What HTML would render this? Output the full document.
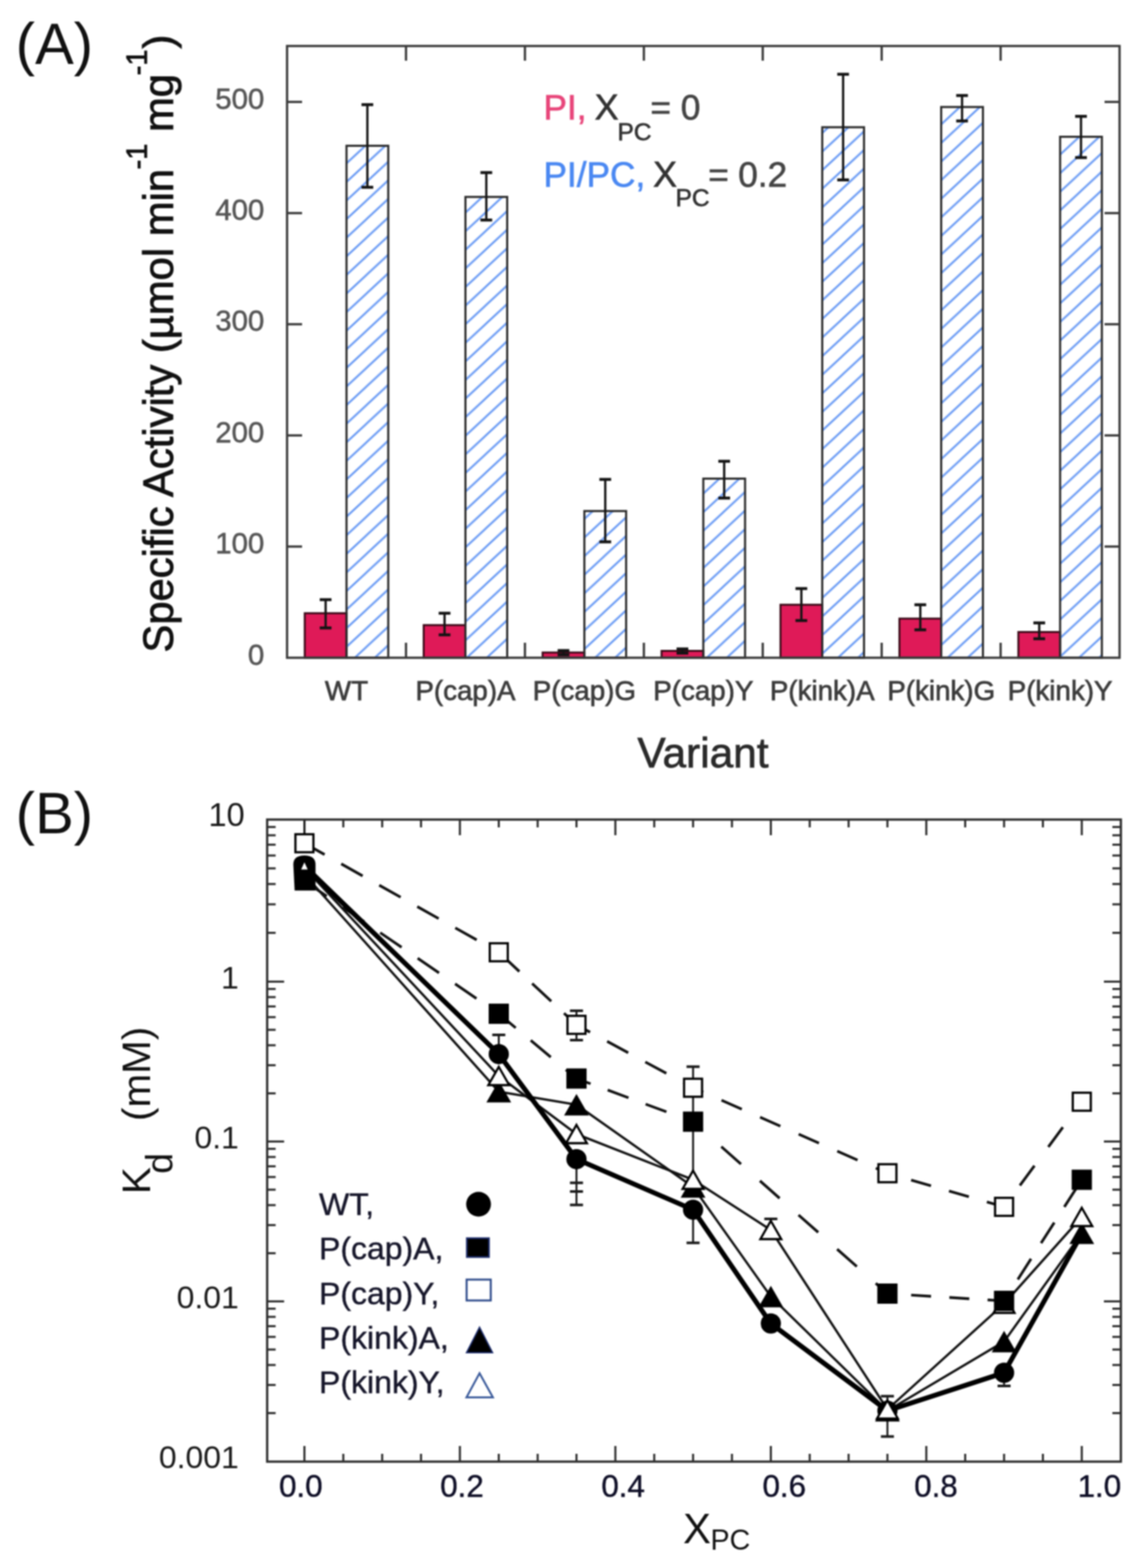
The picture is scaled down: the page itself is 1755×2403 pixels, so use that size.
<!DOCTYPE html>
<html><head><meta charset="utf-8"><title>Figure</title>
<style>
html,body{margin:0;padding:0;background:#fff;}
svg{display:block;}
#fig{filter:blur(1px);width:1755px;height:2403px;}
text{font-family:'Liberation Sans', Arial, Helvetica, sans-serif;}
</style></head>
<body>
<div id="fig">
<svg width="1755" height="2403" viewBox="0 0 1755 2403">
<rect width="1755" height="2403" fill="#fff"/>
<defs>
<pattern id="hatch0" patternUnits="userSpaceOnUse" width="30.645" height="28.5" x="531.14" y="506.80"><path d="M-6.13,34.20 L36.77,-5.70 M-6.13,5.70 L6.13,-5.70 M24.52,34.20 L36.77,22.80" stroke="#6d9df5" stroke-width="3.1" fill="none"/></pattern>
<pattern id="hatch1" patternUnits="userSpaceOnUse" width="30.645" height="28.5" x="713.43" y="525.40"><path d="M-6.13,34.20 L36.77,-5.70 M-6.13,5.70 L6.13,-5.70 M24.52,34.20 L36.77,22.80" stroke="#6d9df5" stroke-width="3.1" fill="none"/></pattern>
<pattern id="hatch2" patternUnits="userSpaceOnUse" width="30.645" height="28.5" x="895.71" y="795.30"><path d="M-6.13,34.20 L36.77,-5.70 M-6.13,5.70 L6.13,-5.70 M24.52,34.20 L36.77,22.80" stroke="#6d9df5" stroke-width="3.1" fill="none"/></pattern>
<pattern id="hatch3" patternUnits="userSpaceOnUse" width="30.645" height="28.5" x="1078.00" y="756.50"><path d="M-6.13,34.20 L36.77,-5.70 M-6.13,5.70 L6.13,-5.70 M24.52,34.20 L36.77,22.80" stroke="#6d9df5" stroke-width="3.1" fill="none"/></pattern>
<pattern id="hatch4" patternUnits="userSpaceOnUse" width="30.645" height="28.5" x="1260.29" y="602.90"><path d="M-6.13,34.20 L36.77,-5.70 M-6.13,5.70 L6.13,-5.70 M24.52,34.20 L36.77,22.80" stroke="#6d9df5" stroke-width="3.1" fill="none"/></pattern>
<pattern id="hatch5" patternUnits="userSpaceOnUse" width="30.645" height="28.5" x="1442.57" y="504.20"><path d="M-6.13,34.20 L36.77,-5.70 M-6.13,5.70 L6.13,-5.70 M24.52,34.20 L36.77,22.80" stroke="#6d9df5" stroke-width="3.1" fill="none"/></pattern>
<pattern id="hatch6" patternUnits="userSpaceOnUse" width="30.645" height="28.5" x="1624.86" y="522.00"><path d="M-6.13,34.20 L36.77,-5.70 M-6.13,5.70 L6.13,-5.70 M24.52,34.20 L36.77,22.80" stroke="#6d9df5" stroke-width="3.1" fill="none"/></pattern>
</defs>
<rect x="467.1" y="939.8" width="64" height="68.2" fill="#df1a58" stroke="#3a0a18" stroke-width="3"/>
<rect x="531.1" y="223.4" width="64" height="784.6" fill="url(#hatch0)" stroke="#2a2a2a" stroke-width="3.2"/>
<rect x="649.4" y="958.0" width="64" height="50.0" fill="#df1a58" stroke="#3a0a18" stroke-width="3"/>
<rect x="713.4" y="301.8" width="64" height="706.2" fill="url(#hatch1)" stroke="#2a2a2a" stroke-width="3.2"/>
<rect x="831.7" y="1000.0" width="64" height="8.0" fill="#df1a58" stroke="#3a0a18" stroke-width="3"/>
<rect x="895.7" y="783.2" width="64" height="224.8" fill="url(#hatch2)" stroke="#2a2a2a" stroke-width="3.2"/>
<rect x="1014.0" y="997.5" width="64" height="10.5" fill="#df1a58" stroke="#3a0a18" stroke-width="3"/>
<rect x="1078.0" y="733.5" width="64" height="274.5" fill="url(#hatch3)" stroke="#2a2a2a" stroke-width="3.2"/>
<rect x="1196.3" y="926.8" width="64" height="81.2" fill="#df1a58" stroke="#3a0a18" stroke-width="3"/>
<rect x="1260.3" y="195.0" width="64" height="813.0" fill="url(#hatch4)" stroke="#2a2a2a" stroke-width="3.2"/>
<rect x="1378.6" y="948.0" width="64" height="60.0" fill="#df1a58" stroke="#3a0a18" stroke-width="3"/>
<rect x="1442.6" y="164.0" width="64" height="844.0" fill="url(#hatch5)" stroke="#2a2a2a" stroke-width="3.2"/>
<rect x="1560.9" y="968.6" width="64" height="39.4" fill="#df1a58" stroke="#3a0a18" stroke-width="3"/>
<rect x="1624.9" y="209.6" width="64" height="798.4" fill="url(#hatch6)" stroke="#2a2a2a" stroke-width="3.2"/>
<line x1="499.1" y1="919.0" x2="499.1" y2="962.3" stroke="#141414" stroke-width="3.5" />
<line x1="490.1" y1="919.0" x2="508.1" y2="919.0" stroke="#141414" stroke-width="4.5" />
<line x1="490.1" y1="962.3" x2="508.1" y2="962.3" stroke="#141414" stroke-width="4.5" />
<line x1="563.1" y1="160.4" x2="563.1" y2="287.0" stroke="#141414" stroke-width="3.5" />
<line x1="554.1" y1="160.4" x2="572.1" y2="160.4" stroke="#141414" stroke-width="4.5" />
<line x1="554.1" y1="287.0" x2="572.1" y2="287.0" stroke="#141414" stroke-width="4.5" />
<line x1="681.4" y1="939.8" x2="681.4" y2="972.9" stroke="#141414" stroke-width="3.5" />
<line x1="672.4" y1="939.8" x2="690.4" y2="939.8" stroke="#141414" stroke-width="4.5" />
<line x1="672.4" y1="972.9" x2="690.4" y2="972.9" stroke="#141414" stroke-width="4.5" />
<line x1="745.4" y1="264.5" x2="745.4" y2="337.2" stroke="#141414" stroke-width="3.5" />
<line x1="736.4" y1="264.5" x2="754.4" y2="264.5" stroke="#141414" stroke-width="4.5" />
<line x1="736.4" y1="337.2" x2="754.4" y2="337.2" stroke="#141414" stroke-width="4.5" />
<line x1="863.7" y1="997.0" x2="863.7" y2="1003.5" stroke="#141414" stroke-width="3.5" />
<line x1="854.7" y1="997.0" x2="872.7" y2="997.0" stroke="#141414" stroke-width="4.5" />
<line x1="854.7" y1="1003.5" x2="872.7" y2="1003.5" stroke="#141414" stroke-width="4.5" />
<line x1="927.7" y1="734.7" x2="927.7" y2="830.4" stroke="#141414" stroke-width="3.5" />
<line x1="918.7" y1="734.7" x2="936.7" y2="734.7" stroke="#141414" stroke-width="4.5" />
<line x1="918.7" y1="830.4" x2="936.7" y2="830.4" stroke="#141414" stroke-width="4.5" />
<line x1="1046.0" y1="994.5" x2="1046.0" y2="1001.0" stroke="#141414" stroke-width="3.5" />
<line x1="1037.0" y1="994.5" x2="1055.0" y2="994.5" stroke="#141414" stroke-width="4.5" />
<line x1="1037.0" y1="1001.0" x2="1055.0" y2="1001.0" stroke="#141414" stroke-width="4.5" />
<line x1="1110.0" y1="706.9" x2="1110.0" y2="763.3" stroke="#141414" stroke-width="3.5" />
<line x1="1101.0" y1="706.9" x2="1119.0" y2="706.9" stroke="#141414" stroke-width="4.5" />
<line x1="1101.0" y1="763.3" x2="1119.0" y2="763.3" stroke="#141414" stroke-width="4.5" />
<line x1="1228.3" y1="902.0" x2="1228.3" y2="951.0" stroke="#141414" stroke-width="3.5" />
<line x1="1219.3" y1="902.0" x2="1237.3" y2="902.0" stroke="#141414" stroke-width="4.5" />
<line x1="1219.3" y1="951.0" x2="1237.3" y2="951.0" stroke="#141414" stroke-width="4.5" />
<line x1="1292.3" y1="113.8" x2="1292.3" y2="275.7" stroke="#141414" stroke-width="3.5" />
<line x1="1283.3" y1="113.8" x2="1301.3" y2="113.8" stroke="#141414" stroke-width="4.5" />
<line x1="1283.3" y1="275.7" x2="1301.3" y2="275.7" stroke="#141414" stroke-width="4.5" />
<line x1="1410.6" y1="926.8" x2="1410.6" y2="965.2" stroke="#141414" stroke-width="3.5" />
<line x1="1401.6" y1="926.8" x2="1419.6" y2="926.8" stroke="#141414" stroke-width="4.5" />
<line x1="1401.6" y1="965.2" x2="1419.6" y2="965.2" stroke="#141414" stroke-width="4.5" />
<line x1="1474.6" y1="146.4" x2="1474.6" y2="185.4" stroke="#141414" stroke-width="3.5" />
<line x1="1465.6" y1="146.4" x2="1483.6" y2="146.4" stroke="#141414" stroke-width="4.5" />
<line x1="1465.6" y1="185.4" x2="1483.6" y2="185.4" stroke="#141414" stroke-width="4.5" />
<line x1="1592.9" y1="954.6" x2="1592.9" y2="978.9" stroke="#141414" stroke-width="3.5" />
<line x1="1583.9" y1="954.6" x2="1601.9" y2="954.6" stroke="#141414" stroke-width="4.5" />
<line x1="1583.9" y1="978.9" x2="1601.9" y2="978.9" stroke="#141414" stroke-width="4.5" />
<line x1="1656.9" y1="178.3" x2="1656.9" y2="241.5" stroke="#141414" stroke-width="3.5" />
<line x1="1647.9" y1="178.3" x2="1665.9" y2="178.3" stroke="#141414" stroke-width="4.5" />
<line x1="1647.9" y1="241.5" x2="1665.9" y2="241.5" stroke="#141414" stroke-width="4.5" />
<rect x="440" y="70.5" width="1276" height="937.5" fill="none" stroke="#3a3a3a" stroke-width="3.5"/>
<line x1="440.0" y1="837.6" x2="463.0" y2="837.6" stroke="#3a3a3a" stroke-width="3.5" />
<line x1="1716.0" y1="837.6" x2="1693.0" y2="837.6" stroke="#3a3a3a" stroke-width="3.5" />
<line x1="440.0" y1="667.3" x2="463.0" y2="667.3" stroke="#3a3a3a" stroke-width="3.5" />
<line x1="1716.0" y1="667.3" x2="1693.0" y2="667.3" stroke="#3a3a3a" stroke-width="3.5" />
<line x1="440.0" y1="496.9" x2="463.0" y2="496.9" stroke="#3a3a3a" stroke-width="3.5" />
<line x1="1716.0" y1="496.9" x2="1693.0" y2="496.9" stroke="#3a3a3a" stroke-width="3.5" />
<line x1="440.0" y1="326.6" x2="463.0" y2="326.6" stroke="#3a3a3a" stroke-width="3.5" />
<line x1="1716.0" y1="326.6" x2="1693.0" y2="326.6" stroke="#3a3a3a" stroke-width="3.5" />
<line x1="440.0" y1="156.2" x2="463.0" y2="156.2" stroke="#3a3a3a" stroke-width="3.5" />
<line x1="1716.0" y1="156.2" x2="1693.0" y2="156.2" stroke="#3a3a3a" stroke-width="3.5" />
<line x1="622.3" y1="70.5" x2="622.3" y2="93.0" stroke="#3a3a3a" stroke-width="3.5" />
<line x1="622.3" y1="1008.0" x2="622.3" y2="985.0" stroke="#3a3a3a" stroke-width="3.5" />
<line x1="804.6" y1="70.5" x2="804.6" y2="93.0" stroke="#3a3a3a" stroke-width="3.5" />
<line x1="804.6" y1="1008.0" x2="804.6" y2="985.0" stroke="#3a3a3a" stroke-width="3.5" />
<line x1="986.9" y1="70.5" x2="986.9" y2="93.0" stroke="#3a3a3a" stroke-width="3.5" />
<line x1="986.9" y1="1008.0" x2="986.9" y2="985.0" stroke="#3a3a3a" stroke-width="3.5" />
<line x1="1169.1" y1="70.5" x2="1169.1" y2="93.0" stroke="#3a3a3a" stroke-width="3.5" />
<line x1="1169.1" y1="1008.0" x2="1169.1" y2="985.0" stroke="#3a3a3a" stroke-width="3.5" />
<line x1="1351.4" y1="70.5" x2="1351.4" y2="93.0" stroke="#3a3a3a" stroke-width="3.5" />
<line x1="1351.4" y1="1008.0" x2="1351.4" y2="985.0" stroke="#3a3a3a" stroke-width="3.5" />
<line x1="1533.7" y1="70.5" x2="1533.7" y2="93.0" stroke="#3a3a3a" stroke-width="3.5" />
<line x1="1533.7" y1="1008.0" x2="1533.7" y2="985.0" stroke="#3a3a3a" stroke-width="3.5" />
<text x="405.0" y="1018.5" font-size="45" fill="#565656" text-anchor="end" stroke="#565656" stroke-width="0.8" >0</text>
<text x="405.0" y="848.1" font-size="45" fill="#565656" text-anchor="end" stroke="#565656" stroke-width="0.8" >100</text>
<text x="405.0" y="677.8" font-size="45" fill="#565656" text-anchor="end" stroke="#565656" stroke-width="0.8" >200</text>
<text x="405.0" y="507.4" font-size="45" fill="#565656" text-anchor="end" stroke="#565656" stroke-width="0.8" >300</text>
<text x="405.0" y="337.1" font-size="45" fill="#565656" text-anchor="end" stroke="#565656" stroke-width="0.8" >400</text>
<text x="405.0" y="166.7" font-size="45" fill="#565656" text-anchor="end" stroke="#565656" stroke-width="0.8" >500</text>
<text x="531.1" y="1072.5" font-size="42.5" fill="#3c3c3c" text-anchor="middle" stroke="#3c3c3c" stroke-width="1.0" >WT</text>
<text x="713.4" y="1072.5" font-size="42.5" fill="#3c3c3c" text-anchor="middle" stroke="#3c3c3c" stroke-width="1.0" >P(cap)A</text>
<text x="895.7" y="1072.5" font-size="42.5" fill="#3c3c3c" text-anchor="middle" stroke="#3c3c3c" stroke-width="1.0" >P(cap)G</text>
<text x="1078.0" y="1072.5" font-size="42.5" fill="#3c3c3c" text-anchor="middle" stroke="#3c3c3c" stroke-width="1.0" >P(cap)Y</text>
<text x="1260.3" y="1072.5" font-size="42.5" fill="#3c3c3c" text-anchor="middle" stroke="#3c3c3c" stroke-width="1.0" >P(kink)A</text>
<text x="1442.6" y="1072.5" font-size="42.5" fill="#3c3c3c" text-anchor="middle" stroke="#3c3c3c" stroke-width="1.0" >P(kink)G</text>
<text x="1624.9" y="1072.5" font-size="42.5" fill="#3c3c3c" text-anchor="middle" stroke="#3c3c3c" stroke-width="1.0" >P(kink)Y</text>
<text x="1077.5" y="1176.0" font-size="65" fill="#2a2a2a" text-anchor="middle" stroke="#2a2a2a" stroke-width="1.0" >Variant</text>
<text transform="translate(265,1000) rotate(-90)" font-size="64" fill="#111" stroke="#111" stroke-width="1.2">Specific Activity (&#181;mol min<tspan font-size="44" x="740.5" dy="-40">-1</tspan><tspan x="797.8" dy="40">mg</tspan><tspan font-size="44" x="884.8" dy="-40">-1</tspan><tspan x="925.6" dy="40">)</tspan></text>
<text x="833.0" y="183.0" font-size="54" fill="#e8457a" text-anchor="start" stroke="#e8457a" stroke-width="0.9" >PI,</text>
<text x="911.5" y="183.0" font-size="55" fill="#333" text-anchor="start" stroke="#333" stroke-width="0.9" >X</text>
<text x="946.5" y="214.5" font-size="37.5" fill="#333" text-anchor="start" stroke="#333" stroke-width="0.9" >PC</text>
<text x="997.0" y="183.0" font-size="54" fill="#444" text-anchor="start" stroke="#444" stroke-width="0.9" >=</text>
<text x="1043.5" y="183.0" font-size="54" fill="#444" text-anchor="start" stroke="#444" stroke-width="0.9" >0</text>
<text x="833.0" y="286.0" font-size="54" fill="#4a88f2" text-anchor="start" stroke="#4a88f2" stroke-width="0.9" >PI/PC,</text>
<text x="1001.0" y="286.0" font-size="55" fill="#333" text-anchor="start" stroke="#333" stroke-width="0.9" >X</text>
<text x="1035.5" y="316.0" font-size="37.5" fill="#333" text-anchor="start" stroke="#333" stroke-width="0.9" >PC</text>
<text x="1085.5" y="286.0" font-size="54" fill="#444" text-anchor="start" stroke="#444" stroke-width="0.9" >=</text>
<text x="1131.5" y="286.0" font-size="54" fill="#444" text-anchor="start" stroke="#444" stroke-width="0.9" >0.2</text>
<text x="24.0" y="97.5" font-size="89" fill="#111" text-anchor="start" >(A)</text>
<line x1="466.6" y1="2240.0" x2="466.6" y2="2216.0" stroke="#2e2e2e" stroke-width="3.2" />
<line x1="466.6" y1="1256.0" x2="466.6" y2="1280.0" stroke="#2e2e2e" stroke-width="3.2" />
<line x1="526.2" y1="2240.0" x2="526.2" y2="2228.0" stroke="#2e2e2e" stroke-width="3.2" />
<line x1="526.2" y1="1256.0" x2="526.2" y2="1268.0" stroke="#2e2e2e" stroke-width="3.2" />
<line x1="585.8" y1="2240.0" x2="585.8" y2="2228.0" stroke="#2e2e2e" stroke-width="3.2" />
<line x1="585.8" y1="1256.0" x2="585.8" y2="1268.0" stroke="#2e2e2e" stroke-width="3.2" />
<line x1="645.3" y1="2240.0" x2="645.3" y2="2228.0" stroke="#2e2e2e" stroke-width="3.2" />
<line x1="645.3" y1="1256.0" x2="645.3" y2="1268.0" stroke="#2e2e2e" stroke-width="3.2" />
<line x1="704.9" y1="2240.0" x2="704.9" y2="2216.0" stroke="#2e2e2e" stroke-width="3.2" />
<line x1="704.9" y1="1256.0" x2="704.9" y2="1280.0" stroke="#2e2e2e" stroke-width="3.2" />
<line x1="764.5" y1="2240.0" x2="764.5" y2="2228.0" stroke="#2e2e2e" stroke-width="3.2" />
<line x1="764.5" y1="1256.0" x2="764.5" y2="1268.0" stroke="#2e2e2e" stroke-width="3.2" />
<line x1="824.1" y1="2240.0" x2="824.1" y2="2228.0" stroke="#2e2e2e" stroke-width="3.2" />
<line x1="824.1" y1="1256.0" x2="824.1" y2="1268.0" stroke="#2e2e2e" stroke-width="3.2" />
<line x1="883.6" y1="2240.0" x2="883.6" y2="2228.0" stroke="#2e2e2e" stroke-width="3.2" />
<line x1="883.6" y1="1256.0" x2="883.6" y2="1268.0" stroke="#2e2e2e" stroke-width="3.2" />
<line x1="943.2" y1="2240.0" x2="943.2" y2="2216.0" stroke="#2e2e2e" stroke-width="3.2" />
<line x1="943.2" y1="1256.0" x2="943.2" y2="1280.0" stroke="#2e2e2e" stroke-width="3.2" />
<line x1="1002.8" y1="2240.0" x2="1002.8" y2="2228.0" stroke="#2e2e2e" stroke-width="3.2" />
<line x1="1002.8" y1="1256.0" x2="1002.8" y2="1268.0" stroke="#2e2e2e" stroke-width="3.2" />
<line x1="1062.3" y1="2240.0" x2="1062.3" y2="2228.0" stroke="#2e2e2e" stroke-width="3.2" />
<line x1="1062.3" y1="1256.0" x2="1062.3" y2="1268.0" stroke="#2e2e2e" stroke-width="3.2" />
<line x1="1121.9" y1="2240.0" x2="1121.9" y2="2228.0" stroke="#2e2e2e" stroke-width="3.2" />
<line x1="1121.9" y1="1256.0" x2="1121.9" y2="1268.0" stroke="#2e2e2e" stroke-width="3.2" />
<line x1="1181.5" y1="2240.0" x2="1181.5" y2="2216.0" stroke="#2e2e2e" stroke-width="3.2" />
<line x1="1181.5" y1="1256.0" x2="1181.5" y2="1280.0" stroke="#2e2e2e" stroke-width="3.2" />
<line x1="1241.1" y1="2240.0" x2="1241.1" y2="2228.0" stroke="#2e2e2e" stroke-width="3.2" />
<line x1="1241.1" y1="1256.0" x2="1241.1" y2="1268.0" stroke="#2e2e2e" stroke-width="3.2" />
<line x1="1300.7" y1="2240.0" x2="1300.7" y2="2228.0" stroke="#2e2e2e" stroke-width="3.2" />
<line x1="1300.7" y1="1256.0" x2="1300.7" y2="1268.0" stroke="#2e2e2e" stroke-width="3.2" />
<line x1="1360.2" y1="2240.0" x2="1360.2" y2="2228.0" stroke="#2e2e2e" stroke-width="3.2" />
<line x1="1360.2" y1="1256.0" x2="1360.2" y2="1268.0" stroke="#2e2e2e" stroke-width="3.2" />
<line x1="1419.8" y1="2240.0" x2="1419.8" y2="2216.0" stroke="#2e2e2e" stroke-width="3.2" />
<line x1="1419.8" y1="1256.0" x2="1419.8" y2="1280.0" stroke="#2e2e2e" stroke-width="3.2" />
<line x1="1479.4" y1="2240.0" x2="1479.4" y2="2228.0" stroke="#2e2e2e" stroke-width="3.2" />
<line x1="1479.4" y1="1256.0" x2="1479.4" y2="1268.0" stroke="#2e2e2e" stroke-width="3.2" />
<line x1="1539.0" y1="2240.0" x2="1539.0" y2="2228.0" stroke="#2e2e2e" stroke-width="3.2" />
<line x1="1539.0" y1="1256.0" x2="1539.0" y2="1268.0" stroke="#2e2e2e" stroke-width="3.2" />
<line x1="1598.5" y1="2240.0" x2="1598.5" y2="2228.0" stroke="#2e2e2e" stroke-width="3.2" />
<line x1="1598.5" y1="1256.0" x2="1598.5" y2="1268.0" stroke="#2e2e2e" stroke-width="3.2" />
<line x1="1658.1" y1="2240.0" x2="1658.1" y2="2216.0" stroke="#2e2e2e" stroke-width="3.2" />
<line x1="1658.1" y1="1256.0" x2="1658.1" y2="1280.0" stroke="#2e2e2e" stroke-width="3.2" />
<line x1="409.5" y1="2165.6" x2="422.5" y2="2165.6" stroke="#2e2e2e" stroke-width="3.2" />
<line x1="1718.0" y1="2165.6" x2="1705.0" y2="2165.6" stroke="#2e2e2e" stroke-width="3.2" />
<line x1="409.5" y1="2122.5" x2="422.5" y2="2122.5" stroke="#2e2e2e" stroke-width="3.2" />
<line x1="1718.0" y1="2122.5" x2="1705.0" y2="2122.5" stroke="#2e2e2e" stroke-width="3.2" />
<line x1="409.5" y1="2091.9" x2="422.5" y2="2091.9" stroke="#2e2e2e" stroke-width="3.2" />
<line x1="1718.0" y1="2091.9" x2="1705.0" y2="2091.9" stroke="#2e2e2e" stroke-width="3.2" />
<line x1="409.5" y1="2068.2" x2="422.5" y2="2068.2" stroke="#2e2e2e" stroke-width="3.2" />
<line x1="1718.0" y1="2068.2" x2="1705.0" y2="2068.2" stroke="#2e2e2e" stroke-width="3.2" />
<line x1="409.5" y1="2048.8" x2="422.5" y2="2048.8" stroke="#2e2e2e" stroke-width="3.2" />
<line x1="1718.0" y1="2048.8" x2="1705.0" y2="2048.8" stroke="#2e2e2e" stroke-width="3.2" />
<line x1="409.5" y1="2032.4" x2="422.5" y2="2032.4" stroke="#2e2e2e" stroke-width="3.2" />
<line x1="1718.0" y1="2032.4" x2="1705.0" y2="2032.4" stroke="#2e2e2e" stroke-width="3.2" />
<line x1="409.5" y1="2018.1" x2="422.5" y2="2018.1" stroke="#2e2e2e" stroke-width="3.2" />
<line x1="1718.0" y1="2018.1" x2="1705.0" y2="2018.1" stroke="#2e2e2e" stroke-width="3.2" />
<line x1="409.5" y1="2005.6" x2="422.5" y2="2005.6" stroke="#2e2e2e" stroke-width="3.2" />
<line x1="1718.0" y1="2005.6" x2="1705.0" y2="2005.6" stroke="#2e2e2e" stroke-width="3.2" />
<line x1="409.5" y1="1994.4" x2="435.5" y2="1994.4" stroke="#2e2e2e" stroke-width="3.2" />
<line x1="1718.0" y1="1994.4" x2="1692.0" y2="1994.4" stroke="#2e2e2e" stroke-width="3.2" />
<line x1="409.5" y1="1920.6" x2="422.5" y2="1920.6" stroke="#2e2e2e" stroke-width="3.2" />
<line x1="1718.0" y1="1920.6" x2="1705.0" y2="1920.6" stroke="#2e2e2e" stroke-width="3.2" />
<line x1="409.5" y1="1877.5" x2="422.5" y2="1877.5" stroke="#2e2e2e" stroke-width="3.2" />
<line x1="1718.0" y1="1877.5" x2="1705.0" y2="1877.5" stroke="#2e2e2e" stroke-width="3.2" />
<line x1="409.5" y1="1846.9" x2="422.5" y2="1846.9" stroke="#2e2e2e" stroke-width="3.2" />
<line x1="1718.0" y1="1846.9" x2="1705.0" y2="1846.9" stroke="#2e2e2e" stroke-width="3.2" />
<line x1="409.5" y1="1823.2" x2="422.5" y2="1823.2" stroke="#2e2e2e" stroke-width="3.2" />
<line x1="1718.0" y1="1823.2" x2="1705.0" y2="1823.2" stroke="#2e2e2e" stroke-width="3.2" />
<line x1="409.5" y1="1803.8" x2="422.5" y2="1803.8" stroke="#2e2e2e" stroke-width="3.2" />
<line x1="1718.0" y1="1803.8" x2="1705.0" y2="1803.8" stroke="#2e2e2e" stroke-width="3.2" />
<line x1="409.5" y1="1787.4" x2="422.5" y2="1787.4" stroke="#2e2e2e" stroke-width="3.2" />
<line x1="1718.0" y1="1787.4" x2="1705.0" y2="1787.4" stroke="#2e2e2e" stroke-width="3.2" />
<line x1="409.5" y1="1773.1" x2="422.5" y2="1773.1" stroke="#2e2e2e" stroke-width="3.2" />
<line x1="1718.0" y1="1773.1" x2="1705.0" y2="1773.1" stroke="#2e2e2e" stroke-width="3.2" />
<line x1="409.5" y1="1760.6" x2="422.5" y2="1760.6" stroke="#2e2e2e" stroke-width="3.2" />
<line x1="1718.0" y1="1760.6" x2="1705.0" y2="1760.6" stroke="#2e2e2e" stroke-width="3.2" />
<line x1="409.5" y1="1749.4" x2="435.5" y2="1749.4" stroke="#2e2e2e" stroke-width="3.2" />
<line x1="1718.0" y1="1749.4" x2="1692.0" y2="1749.4" stroke="#2e2e2e" stroke-width="3.2" />
<line x1="409.5" y1="1675.6" x2="422.5" y2="1675.6" stroke="#2e2e2e" stroke-width="3.2" />
<line x1="1718.0" y1="1675.6" x2="1705.0" y2="1675.6" stroke="#2e2e2e" stroke-width="3.2" />
<line x1="409.5" y1="1632.5" x2="422.5" y2="1632.5" stroke="#2e2e2e" stroke-width="3.2" />
<line x1="1718.0" y1="1632.5" x2="1705.0" y2="1632.5" stroke="#2e2e2e" stroke-width="3.2" />
<line x1="409.5" y1="1601.9" x2="422.5" y2="1601.9" stroke="#2e2e2e" stroke-width="3.2" />
<line x1="1718.0" y1="1601.9" x2="1705.0" y2="1601.9" stroke="#2e2e2e" stroke-width="3.2" />
<line x1="409.5" y1="1578.2" x2="422.5" y2="1578.2" stroke="#2e2e2e" stroke-width="3.2" />
<line x1="1718.0" y1="1578.2" x2="1705.0" y2="1578.2" stroke="#2e2e2e" stroke-width="3.2" />
<line x1="409.5" y1="1558.8" x2="422.5" y2="1558.8" stroke="#2e2e2e" stroke-width="3.2" />
<line x1="1718.0" y1="1558.8" x2="1705.0" y2="1558.8" stroke="#2e2e2e" stroke-width="3.2" />
<line x1="409.5" y1="1542.4" x2="422.5" y2="1542.4" stroke="#2e2e2e" stroke-width="3.2" />
<line x1="1718.0" y1="1542.4" x2="1705.0" y2="1542.4" stroke="#2e2e2e" stroke-width="3.2" />
<line x1="409.5" y1="1528.1" x2="422.5" y2="1528.1" stroke="#2e2e2e" stroke-width="3.2" />
<line x1="1718.0" y1="1528.1" x2="1705.0" y2="1528.1" stroke="#2e2e2e" stroke-width="3.2" />
<line x1="409.5" y1="1515.6" x2="422.5" y2="1515.6" stroke="#2e2e2e" stroke-width="3.2" />
<line x1="1718.0" y1="1515.6" x2="1705.0" y2="1515.6" stroke="#2e2e2e" stroke-width="3.2" />
<line x1="409.5" y1="1504.4" x2="435.5" y2="1504.4" stroke="#2e2e2e" stroke-width="3.2" />
<line x1="1718.0" y1="1504.4" x2="1692.0" y2="1504.4" stroke="#2e2e2e" stroke-width="3.2" />
<line x1="409.5" y1="1429.6" x2="422.5" y2="1429.6" stroke="#2e2e2e" stroke-width="3.2" />
<line x1="1718.0" y1="1429.6" x2="1705.0" y2="1429.6" stroke="#2e2e2e" stroke-width="3.2" />
<line x1="409.5" y1="1385.9" x2="422.5" y2="1385.9" stroke="#2e2e2e" stroke-width="3.2" />
<line x1="1718.0" y1="1385.9" x2="1705.0" y2="1385.9" stroke="#2e2e2e" stroke-width="3.2" />
<line x1="409.5" y1="1354.8" x2="422.5" y2="1354.8" stroke="#2e2e2e" stroke-width="3.2" />
<line x1="1718.0" y1="1354.8" x2="1705.0" y2="1354.8" stroke="#2e2e2e" stroke-width="3.2" />
<line x1="409.5" y1="1330.8" x2="422.5" y2="1330.8" stroke="#2e2e2e" stroke-width="3.2" />
<line x1="1718.0" y1="1330.8" x2="1705.0" y2="1330.8" stroke="#2e2e2e" stroke-width="3.2" />
<line x1="409.5" y1="1311.1" x2="422.5" y2="1311.1" stroke="#2e2e2e" stroke-width="3.2" />
<line x1="1718.0" y1="1311.1" x2="1705.0" y2="1311.1" stroke="#2e2e2e" stroke-width="3.2" />
<line x1="409.5" y1="1294.5" x2="422.5" y2="1294.5" stroke="#2e2e2e" stroke-width="3.2" />
<line x1="1718.0" y1="1294.5" x2="1705.0" y2="1294.5" stroke="#2e2e2e" stroke-width="3.2" />
<line x1="409.5" y1="1280.1" x2="422.5" y2="1280.1" stroke="#2e2e2e" stroke-width="3.2" />
<line x1="1718.0" y1="1280.1" x2="1705.0" y2="1280.1" stroke="#2e2e2e" stroke-width="3.2" />
<line x1="409.5" y1="1267.4" x2="422.5" y2="1267.4" stroke="#2e2e2e" stroke-width="3.2" />
<line x1="1718.0" y1="1267.4" x2="1705.0" y2="1267.4" stroke="#2e2e2e" stroke-width="3.2" />
<text x="366.0" y="1514.9" font-size="49" fill="#1a1a1a" text-anchor="end" >1</text>
<text x="366.0" y="1759.9" font-size="49" fill="#1a1a1a" text-anchor="end" >0.1</text>
<text x="366.0" y="2004.9" font-size="49" fill="#1a1a1a" text-anchor="end" >0.01</text>
<text x="366.0" y="2249.9" font-size="49" fill="#1a1a1a" text-anchor="end" >0.001</text>
<text x="375.0" y="1265.5" font-size="50" fill="#1a1a1a" text-anchor="end" >10</text>
<text x="461.0" y="2294.0" font-size="48" fill="#0e0e26" text-anchor="middle" stroke="#0e0e26" stroke-width="0.6" >0.0</text>
<text x="708.0" y="2294.0" font-size="48" fill="#0e0e26" text-anchor="middle" stroke="#0e0e26" stroke-width="0.6" >0.2</text>
<text x="955.0" y="2294.0" font-size="48" fill="#0e0e26" text-anchor="middle" stroke="#0e0e26" stroke-width="0.6" >0.4</text>
<text x="1202.0" y="2294.0" font-size="48" fill="#0e0e26" text-anchor="middle" stroke="#0e0e26" stroke-width="0.6" >0.6</text>
<text x="1434.7" y="2294.0" font-size="48" fill="#0e0e26" text-anchor="middle" stroke="#0e0e26" stroke-width="0.6" >0.8</text>
<text x="1685.0" y="2294.0" font-size="48" fill="#0e0e26" text-anchor="middle" stroke="#0e0e26" stroke-width="0.6" >1.0</text>
<text x="1047.0" y="2365.0" font-size="64" fill="#111" text-anchor="start" >X</text>
<text x="1089.0" y="2375.0" font-size="44" fill="#111" text-anchor="start" >PC</text>
<text transform="translate(230,1830) rotate(-90)" font-size="62" fill="#111">K</text>
<text transform="translate(264,1799) rotate(-90)" font-size="58" fill="#111">d</text>
<text transform="translate(230,1718) rotate(-90)" font-size="62" fill="#111">(mM)</text>
<text x="24.0" y="1276.5" font-size="89" fill="#111" text-anchor="start" >(B)</text>
<line x1="466.6" y1="1292.3" x2="764.5" y2="1459.4" stroke="#111" stroke-width="4.2" stroke-dasharray="37.6 29.2" stroke-dashoffset="2.1"/>
<line x1="764.5" y1="1459.4" x2="883.6" y2="1570.6" stroke="#111" stroke-width="4.2" stroke-dasharray="40.0 26.8" stroke-dashoffset="63.6"/>
<line x1="883.6" y1="1570.6" x2="1062.3" y2="1667.0" stroke="#111" stroke-width="4.2" stroke-dasharray="36.7 29.7" stroke-dashoffset="13.0"/>
<line x1="1062.3" y1="1667.0" x2="1360.2" y2="1798.0" stroke="#111" stroke-width="4.2" stroke-dasharray="34.0 30.6" stroke-dashoffset="17.0"/>
<line x1="1360.2" y1="1798.0" x2="1539.0" y2="1849.5" stroke="#111" stroke-width="4.2" stroke-dasharray="31.7 28.7" stroke-dashoffset="22.6"/>
<line x1="1539.0" y1="1849.5" x2="1658.1" y2="1688.4" stroke="#111" stroke-width="4.2" stroke-dasharray="37.5 35.8" stroke-dashoffset="32.5"/>
<line x1="466.6" y1="1350.0" x2="764.5" y2="1553.6" stroke="#111" stroke-width="4.2" stroke-dasharray="39.7 29.8" stroke-dashoffset="67.8"/>
<line x1="764.5" y1="1553.6" x2="883.6" y2="1652.9" stroke="#111" stroke-width="4.2" stroke-dasharray="40.0 30.0" stroke-dashoffset="6.2"/>
<line x1="883.6" y1="1652.9" x2="1062.3" y2="1719.0" stroke="#111" stroke-width="4.2" stroke-dasharray="34.0 28.0" stroke-dashoffset="11.0"/>
<line x1="1062.3" y1="1719.0" x2="1360.2" y2="1982.5" stroke="#111" stroke-width="4.2" stroke-dasharray="40.3 38.7" stroke-dashoffset="21.2"/>
<line x1="1360.2" y1="1982.5" x2="1539.0" y2="1993.6" stroke="#111" stroke-width="4.2" stroke-dasharray="30.6 28.1" stroke-dashoffset="22.3"/>
<line x1="1539.0" y1="1993.6" x2="1658.1" y2="1808.0" stroke="#111" stroke-width="4.2" stroke-dasharray="37.5 28.5" stroke-dashoffset="27.0"/>
<polyline points="466.6,1330.0 764.5,1649.0 883.6,1738.0 1062.3,1808.0 1181.5,1885.0 1360.2,2160.0 1539.0,1998.0 1658.1,1865.0" fill="none" stroke="#111" stroke-width="3.6" stroke-linejoin="round"/>
<polyline points="466.6,1340.0 764.5,1673.0 883.6,1693.0 1062.3,1819.0 1181.5,1987.0 1360.2,2162.0 1539.0,2056.0 1658.1,1890.0" fill="none" stroke="#111" stroke-width="3.6" stroke-linejoin="round"/>
<polyline points="466.6,1327.0 764.5,1615.4 883.6,1776.4 1062.3,1853.9 1181.5,2028.3 1360.2,2162.0 1539.0,2103.7 1658.1,1891.0" fill="none" stroke="#000" stroke-width="7.5" stroke-linejoin="round"/>
<line x1="466.6" y1="1256.0" x2="466.6" y2="1292.0" stroke="#1a1a1a" stroke-width="3" />
<line x1="764.5" y1="1586.0" x2="764.5" y2="1615.0" stroke="#1a1a1a" stroke-width="3" />
<line x1="754.5" y1="1586.0" x2="774.5" y2="1586.0" stroke="#1a1a1a" stroke-width="4" />
<line x1="754.5" y1="1615.0" x2="774.5" y2="1615.0" stroke="#1a1a1a" stroke-width="4" />
<line x1="883.6" y1="1549.0" x2="883.6" y2="1594.0" stroke="#1a1a1a" stroke-width="3" />
<line x1="873.6" y1="1549.0" x2="893.6" y2="1549.0" stroke="#1a1a1a" stroke-width="4" />
<line x1="873.6" y1="1594.0" x2="893.6" y2="1594.0" stroke="#1a1a1a" stroke-width="4" />
<line x1="883.6" y1="1776.0" x2="883.6" y2="1846.6" stroke="#1a1a1a" stroke-width="3" />
<line x1="873.6" y1="1776.0" x2="893.6" y2="1776.0" stroke="#1a1a1a" stroke-width="4" />
<line x1="873.6" y1="1846.6" x2="893.6" y2="1846.6" stroke="#1a1a1a" stroke-width="4" />
<line x1="873.6" y1="1812.7" x2="893.6" y2="1812.7" stroke="#1a1a1a" stroke-width="4" />
<line x1="873.6" y1="1826.0" x2="893.6" y2="1826.0" stroke="#1a1a1a" stroke-width="4" />
<line x1="1062.3" y1="1634.7" x2="1062.3" y2="1800.0" stroke="#1a1a1a" stroke-width="3" />
<line x1="1052.3" y1="1634.7" x2="1072.3" y2="1634.7" stroke="#1a1a1a" stroke-width="4" />
<line x1="1062.3" y1="1853.0" x2="1062.3" y2="1904.7" stroke="#1a1a1a" stroke-width="3" />
<line x1="1052.3" y1="1904.7" x2="1072.3" y2="1904.7" stroke="#1a1a1a" stroke-width="4" />
<line x1="1181.5" y1="1868.0" x2="1181.5" y2="1885.0" stroke="#1a1a1a" stroke-width="3" />
<line x1="1171.5" y1="1868.0" x2="1191.5" y2="1868.0" stroke="#1a1a1a" stroke-width="4" />
<line x1="1360.2" y1="2139.7" x2="1360.2" y2="2201.5" stroke="#1a1a1a" stroke-width="3" />
<line x1="1350.2" y1="2139.7" x2="1370.2" y2="2139.7" stroke="#1a1a1a" stroke-width="4" />
<line x1="1350.2" y1="2201.5" x2="1370.2" y2="2201.5" stroke="#1a1a1a" stroke-width="4" />
<line x1="1539.0" y1="2103.0" x2="1539.0" y2="2124.0" stroke="#1a1a1a" stroke-width="3" />
<line x1="1529.0" y1="2124.0" x2="1549.0" y2="2124.0" stroke="#1a1a1a" stroke-width="4" />
<circle cx="764.5" cy="1615.4" r="15.5" fill="#000"/>
<circle cx="883.6" cy="1776.4" r="15.5" fill="#000"/>
<circle cx="1062.3" cy="1853.9" r="15.5" fill="#000"/>
<circle cx="1181.5" cy="2028.3" r="15.5" fill="#000"/>
<circle cx="1360.2" cy="2162.0" r="15.5" fill="#000"/>
<circle cx="1539.0" cy="2103.7" r="15.5" fill="#000"/>
<polygon points="764.5,1656.5 783.5,1689.5 745.5,1689.5" fill="#000"/>
<polygon points="883.6,1676.5 902.6,1709.5 864.6,1709.5" fill="#000"/>
<polygon points="1062.3,1802.5 1081.3,1835.5 1043.3,1835.5" fill="#000"/>
<polygon points="1181.5,1970.5 1200.5,2003.5 1162.5,2003.5" fill="#000"/>
<polygon points="1360.2,2145.5 1379.2,2178.5 1341.2,2178.5" fill="#000"/>
<polygon points="1539.0,2039.5 1558.0,2072.5 1520.0,2072.5" fill="#000"/>
<polygon points="1658.1,1873.5 1677.1,1906.5 1639.1,1906.5" fill="#000"/>
<polygon points="764.5,1635.0 780.5,1663.0 748.5,1663.0" fill="#fff" stroke="#000" stroke-width="3.4" stroke-linejoin="miter"/>
<polygon points="883.6,1724.0 899.6,1752.0 867.6,1752.0" fill="#fff" stroke="#000" stroke-width="3.4" stroke-linejoin="miter"/>
<polygon points="1062.3,1794.0 1078.3,1822.0 1046.3,1822.0" fill="#fff" stroke="#000" stroke-width="3.4" stroke-linejoin="miter"/>
<polygon points="1181.5,1871.0 1197.5,1899.0 1165.5,1899.0" fill="#fff" stroke="#000" stroke-width="3.4" stroke-linejoin="miter"/>
<polygon points="1360.2,2146.0 1376.2,2174.0 1344.2,2174.0" fill="#fff" stroke="#000" stroke-width="3.4" stroke-linejoin="miter"/>
<polygon points="1539.0,1984.0 1555.0,2012.0 1523.0,2012.0" fill="#fff" stroke="#000" stroke-width="3.4" stroke-linejoin="miter"/>
<polygon points="1658.1,1851.0 1674.1,1879.0 1642.1,1879.0" fill="#fff" stroke="#000" stroke-width="3.4" stroke-linejoin="miter"/>
<rect x="749.0" y="1538.1" width="31" height="31" fill="#000"/>
<rect x="868.1" y="1637.4" width="31" height="31" fill="#000"/>
<rect x="1046.8" y="1703.5" width="31" height="31" fill="#000"/>
<rect x="1344.7" y="1967.0" width="31" height="31" fill="#000"/>
<rect x="1523.5" y="1978.1" width="31" height="31" fill="#000"/>
<rect x="1642.6" y="1792.5" width="31" height="31" fill="#000"/>
<rect x="452.8" y="1278.5" width="27.6" height="27.6" fill="#fff" stroke="#000" stroke-width="3.4"/>
<rect x="750.7" y="1445.6" width="27.6" height="27.6" fill="#fff" stroke="#000" stroke-width="3.4"/>
<rect x="869.8" y="1556.8" width="27.6" height="27.6" fill="#fff" stroke="#000" stroke-width="3.4"/>
<rect x="1048.5" y="1653.2" width="27.6" height="27.6" fill="#fff" stroke="#000" stroke-width="3.4"/>
<rect x="1346.4" y="1784.2" width="27.6" height="27.6" fill="#fff" stroke="#000" stroke-width="3.4"/>
<rect x="1525.2" y="1835.7" width="27.6" height="27.6" fill="#fff" stroke="#000" stroke-width="3.4"/>
<rect x="1644.3" y="1674.6" width="27.6" height="27.6" fill="#fff" stroke="#000" stroke-width="3.4"/>
<path d="M451.6,1364.8 L483.6,1364.8 L483.6,1325 Q483.6,1311 466.6,1311 Q449.6,1311 449.6,1325 Z" fill="#000"/>
<polygon points="466.6,1321.5 471.6,1332.5 461.6,1332.5" fill="#fff"/>
<text x="489.0" y="1862.3" font-size="49" fill="#16162a" text-anchor="start" stroke="#16162a" stroke-width="0.6" >WT,</text>
<text x="489.0" y="1930.4" font-size="49" fill="#16162a" text-anchor="start" stroke="#16162a" stroke-width="0.6" >P(cap)A,</text>
<text x="489.0" y="1998.5" font-size="49" fill="#16162a" text-anchor="start" stroke="#16162a" stroke-width="0.6" >P(cap)Y,</text>
<text x="489.0" y="2066.6" font-size="49" fill="#16162a" text-anchor="start" stroke="#16162a" stroke-width="0.6" >P(kink)A,</text>
<text x="489.0" y="2134.7" font-size="49" fill="#16162a" text-anchor="start" stroke="#16162a" stroke-width="0.6" >P(kink)Y,</text>
<circle cx="733.5" cy="1845.5" r="19" fill="#000"/>
<rect x="715.5" y="1897.5" width="34" height="29" fill="#000" stroke="#1e2e6e" stroke-width="2.5"/>
<rect x="715.2" y="1961" width="37" height="32" fill="#fff" stroke="#2d4a8a" stroke-width="3"/>
<polygon points="735,2034 755,2073 715,2073" fill="#000" stroke="#1e2e6e" stroke-width="2"/>
<polygon points="735,2104.5 755.5,2141.5 715,2141.5" fill="#fff" stroke="#3a5a9a" stroke-width="3" stroke-linejoin="miter"/>
<rect x="409.5" y="1256" width="1308.5" height="984" fill="none" stroke="#2e2e2e" stroke-width="3.5"/>
</svg>
</div>
</body></html>
